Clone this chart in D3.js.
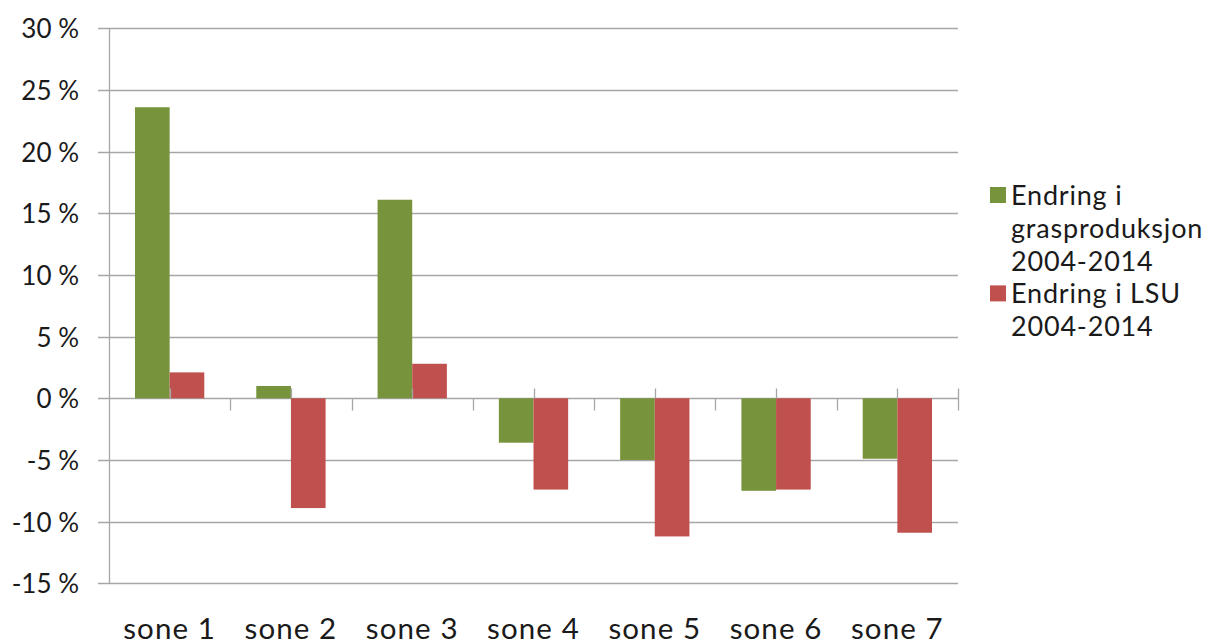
<!DOCTYPE html>
<html>
<head>
<meta charset="utf-8">
<script src="https://cdn.jsdelivr.net/npm/d3@7"></script>
<style>
  html, body { margin: 0; padding: 0; background: #fff; }
  svg { display: block; }
  text { font-family: Lato, "Open Sans", sans-serif; fill: #1a1a1a; }
</style>
</head>
<body>
<svg id="chart" width="1213" height="644"></svg>
<script>
// Zones and change in percent, 2004-2014
const zones = ["sone 1", "sone 2", "sone 3", "sone 4", "sone 5", "sone 6", "sone 7"];
const grasChange = [23.6, 1.0, 16.1, -3.6, -5.0, -7.5, -4.9];
const lsuChange = [2.1, -8.9, 2.8, -7.4, -11.2, -7.4, -10.9];
const yTicks = [-15, -10, -5, 0, 5, 10, 15, 20, 25, 30];
const seriesNames = [
  ["Endring i", "grasproduksjon", "2004-2014"],
  ["Endring i LSU", "2004-2014"]
];
const seriesColors = ["#77933C", "#C0504D"];

const svg = d3.select("#chart");
const plotLeft = 109, plotRight = 958, plotTop = 28.3, plotBottom = 583.3;
const fontFamily = "Lato, 'Open Sans', sans-serif";

const y = d3.scaleLinear().domain([-15, 30]).range([plotBottom, plotTop]);
const x = d3.scaleBand().domain(zones).range([plotLeft, plotRight]).padding(0);
const barW = x.bandwidth() / 3.5;
const sub = d3.scaleBand().domain([0, 1]).range([-barW, barW]).padding(0);

const gridColor = "#a6a6a6";

// Horizontal gridlines with their tick stubs left of the axis
svg.append("g").selectAll("line").data(yTicks).join("line")
  .attr("x1", plotLeft - 11).attr("x2", plotRight)
  .attr("y1", d => Math.round(y(d)) + 0.5).attr("y2", d => Math.round(y(d)) + 0.5)
  .attr("stroke", gridColor).attr("stroke-width", 1.3);

// Value axis line
svg.append("line")
  .attr("x1", plotLeft + 0.5).attr("x2", plotLeft + 0.5)
  .attr("y1", y(30)).attr("y2", y(-15))
  .attr("stroke", gridColor).attr("stroke-width", 1.3);

// Value axis labels
const yAxis = d3.axisLeft(y).tickValues(yTicks).tickSize(0).tickPadding(0)
  .tickFormat(d => d + " %");
const gy = svg.append("g").attr("transform", `translate(${plotLeft - 30},0)`).call(yAxis);
gy.select(".domain").remove();
gy.selectAll("text").attr("font-size", 26).attr("dy", "0.36em")
  .style("font-family", fontFamily).attr("fill", "#1a1a1a");

// Bars
const series = [grasChange, lsuChange];
series.forEach((vals, si) => {
  svg.append("g").selectAll("rect").data(zones.map((z, i) => ({ z, v: vals[i] }))).join("rect")
    .attr("x", d => x(d.z) + x.bandwidth() / 2 + sub(si))
    .attr("width", sub.bandwidth())
    .attr("y", d => y(Math.max(0, d.v)))
    .attr("height", d => Math.abs(y(d.v) - y(0)))
    .attr("fill", seriesColors[si]);
});

// Category axis ticks at zone boundaries and short marks at zone centres
const y0 = Math.round(y(0)) + 0.5;
const bounds = zones.map(z => x(z)).concat([plotRight]).slice(1);
svg.append("g").selectAll("line").data(bounds).join("line")
  .attr("x1", d => Math.round(d) + 0.5).attr("x2", d => Math.round(d) + 0.5)
  .attr("y1", (d, i) => i === bounds.length - 1 ? y0 - 10 : y0).attr("y2", y0 + 12)
  .attr("stroke", gridColor).attr("stroke-width", 1.3);
svg.append("g").selectAll("line").data(zones).join("line")
  .attr("x1", d => Math.round(x(d) + x.bandwidth() / 2) + 0.5)
  .attr("x2", d => Math.round(x(d) + x.bandwidth() / 2) + 0.5)
  .attr("y1", y0 - 10).attr("y2", y0)
  .attr("stroke", gridColor).attr("stroke-width", 1.3);

// Category labels
const xAxis = d3.axisBottom(x).tickSize(0).tickPadding(0);
const gx = svg.append("g").attr("transform", "translate(0,639)").call(xAxis);
gx.select(".domain").remove();
gx.selectAll("text").attr("font-size", 29.5).attr("dy", 0)
  .attr("letter-spacing", 1.1)
  .style("font-family", fontFamily).attr("fill", "#1a1a1a");

// Legend
const legend = svg.append("g");
const lineH = 32.8;
let row = 0;
seriesNames.forEach((lines, si) => {
  const baseY = 205 + row * lineH;
  legend.append("rect")
    .attr("x", 990).attr("y", baseY - 18).attr("width", 16).attr("height", 16)
    .attr("fill", seriesColors[si]);
  lines.forEach((t, li) => {
    legend.append("text")
      .attr("x", 1011).attr("y", baseY + li * lineH)
      .attr("font-size", 27).attr("letter-spacing", 0.8)
      .style("font-family", fontFamily).text(t);
  });
  row += lines.length;
});
</script>
</body>
</html>
